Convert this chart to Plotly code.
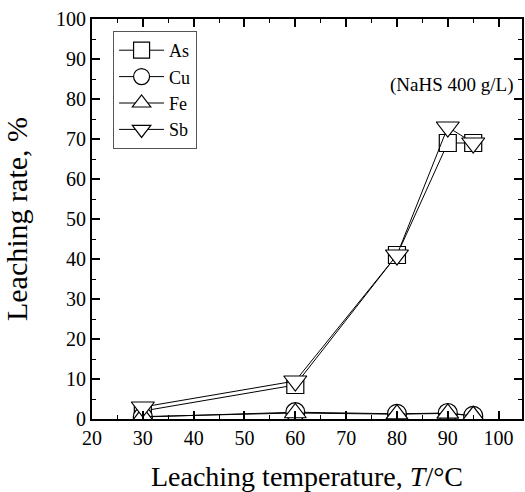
import plotly.graph_objects as go

temps = [30, 60, 80, 90, 95]
as_vals = [2.0, 8.5, 41.0, 69.0, 69.0]
cu_vals = [0.5, 1.7, 1.3, 1.5, 0.8]
fe_vals = [0.6, 1.5, 1.2, 1.4, 0.8]
sb_vals = [3.0, 9.5, 41.0, 73.0, 69.0]

series = [("As", as_vals, "square", 17), ("Cu", cu_vals, "circle", 19),
          ("Fe", fe_vals, "triangle-up", 19), ("Sb", sb_vals, "triangle-down", 20)]

fig = go.Figure()
for name, vals, sym, sz in series:
    fig.add_trace(go.Scatter(
        x=temps, y=vals, name=name, mode="lines+markers",
        line=dict(color="black", width=1),
        marker=dict(symbol=sym, size=sz, color="white", line=dict(color="black", width=1.2)),
    ))

font = "Liberation Serif"
axis_common = dict(
    showline=True, linecolor="black", linewidth=2, mirror="ticks",
    ticks="inside", ticklen=8, tickwidth=1.5, tickcolor="black",
    showgrid=False, zeroline=False,
    tickfont=dict(family=font, size=20, color="black"),
)
fig.update_xaxes(range=[20, 104.6], dtick=10, tick0=0,
                 minor=dict(ticks="inside", ticklen=4, dtick=5, tickcolor="black", tickwidth=1),
                 title=dict(text="Leaching temperature, <i>T</i>/°C", font=dict(family=font, size=28, color="black"), standoff=20),
                 **axis_common)
fig.update_yaxes(range=[0, 100], dtick=10, tick0=0,
                 minor=dict(ticks="inside", ticklen=4, dtick=5, tickcolor="black", tickwidth=1),
                 title=dict(text="Leaching rate, %", font=dict(family=font, size=30, color="black"), standoff=22),
                 **axis_common)

fig.add_annotation(x=0.983, y=0.835, xref="paper", yref="paper", xanchor="right", yanchor="middle",
                   text="(NaHS 400 g/L)", showarrow=False,
                   font=dict(family=font, size=19, color="black"))

fig.update_layout(
    width=525, height=492,
    margin=dict(l=92, r=1, t=19, b=73),
    plot_bgcolor="white", paper_bgcolor="white",
    legend=dict(x=0.049, y=0.97, xanchor="left", yanchor="top",
                bordercolor="#555555", borderwidth=1, bgcolor="white",
                font=dict(family=font, size=18, color="black"),
                itemwidth=45, tracegroupgap=0),
)

fig.write_html("out.html")
